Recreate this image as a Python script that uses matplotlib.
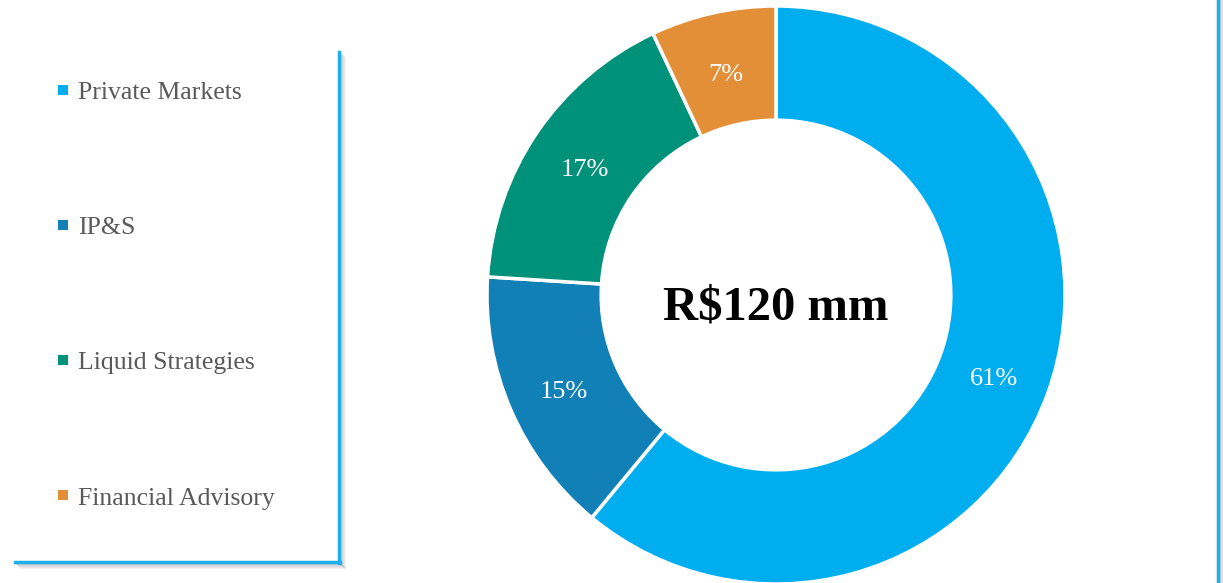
import matplotlib
matplotlib.use("Agg")
import matplotlib.pyplot as plt
from matplotlib.patches import Rectangle
from matplotlib.lines import Line2D

# revenue split by business line
segments = ["Private Markets", "IP&S", "Liquid Strategies", "Financial Advisory"]
shares = [61, 15, 17, 7]
colors = ["#00AEEF", "#1180B7", "#00917B", "#E38F38"]
total_label = "R$120 mm"

W, H = 1223, 583
fig = plt.figure(figsize=(W / 100, H / 100), dpi=100)
fig.patch.set_facecolor("white")
serif = ["Liberation Serif", "DejaVu Serif"]


def fx(px):
    return px / W


def fy(py):
    return 1 - py / H


# ---- donut ----------------------------------------------------------------
cx, cy, r = 776, 295, 289
ax = fig.add_axes([fx(cx - r), fy(cy + r), 2 * r / W, 2 * r / H])
wedges, texts, autotexts = ax.pie(
    shares, colors=colors, startangle=90, counterclock=False, radius=1,
    autopct="%d%%", pctdistance=0.80,
    wedgeprops=dict(width=0.395, edgecolor="white", linewidth=2.5),
    textprops=dict(color="white", fontsize=19, family=serif))
for t in autotexts:
    t.set_va("center_baseline")
    px, py = t.get_position()
    t.set_position((px, py - 0.01))
ax.set_xlim(-1, 1)
ax.set_ylim(-1, 1)
ax.set_aspect("equal")
ax.axis("off")
ax.text(0, -0.025, total_label, ha="center", va="center_baseline", fontsize=35,
        fontweight="bold", family=serif, color="black")

# ---- legend box: blue border right + bottom with a soft shadow -------------
blue = "#1FB0EC"
for off, a in [(6, 0.04), (5, 0.05), (4, 0.07), (3, 0.09), (2, 0.11)]:
    fig.add_artist(Line2D([fx(339 + off), fx(339 + off)], [fy(52 + off), fy(562 + off)],
                          color="black", alpha=a, lw=1.5))
    fig.add_artist(Line2D([fx(15 + off), fx(339 + off)], [fy(562 + off), fy(562 + off)],
                          color="black", alpha=a, lw=1.5))
fig.add_artist(Line2D([fx(339), fx(339)], [fy(52), fy(563)], color=blue, lw=2.5))
fig.add_artist(Line2D([fx(15), fx(340)], [fy(562), fy(562)], color=blue, lw=2.5))

# right-hand divider line
for off, a in [(5, 0.04), (4, 0.06), (3, 0.08), (2, 0.10)]:
    fig.add_artist(Line2D([fx(1218 + off)] * 2, [0, 1], color="black", alpha=a, lw=1.5))
fig.add_artist(Line2D([fx(1218)] * 2, [0, 1], color=blue, lw=2.5))

# legend entries
for i, (name, col) in enumerate(zip(segments, colors)):
    y = 90 + i * 135
    fig.add_artist(Rectangle((fx(58), fy(y + 5)), 10 / W, 10 / H,
                             transform=fig.transFigure, color=col, lw=0))
    fig.text(fx(78), fy(y + 1), name, ha="left", va="center_baseline", fontsize=18.5,
             family=serif, color="#595959")

fig.savefig("out.png", dpi=100, facecolor="white")
